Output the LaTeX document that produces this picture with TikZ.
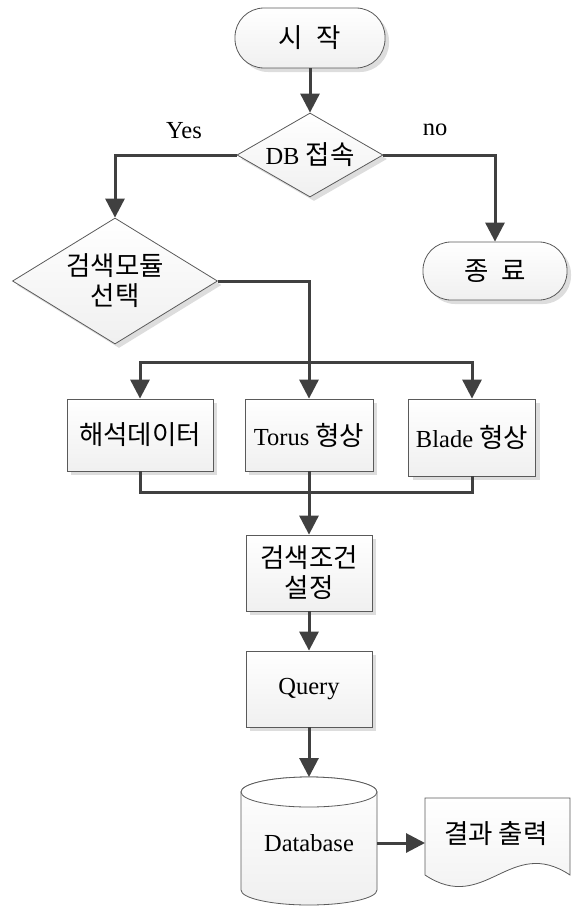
\documentclass[tikz,border=0pt]{standalone}
\usepackage{fontspec}
\setmainfont{Liberation Serif}
\newfontfamily\kr{Noto Sans CJK KR}
\usetikzlibrary{shapes.geometric,arrows.meta,shadows}
\definecolor{lnc}{HTML}{404040}
\definecolor{brd}{HTML}{5A5A5A}
\definecolor{shd}{HTML}{DDDDDD}
\begin{document}
\begin{tikzpicture}[x=1pt,y=-1pt,
  conn/.style={draw=lnc, line width=3pt, -{Triangle[length=19pt,width=19pt]}},
  wire/.style={draw=lnc, line width=3pt},
  fillsh/.style={draw=brd, line width=0.8pt, top color=white, bottom color=gray!12},
  shad/.style={drop shadow={shadow xshift=4pt, shadow yshift=-4pt, fill=shd, opacity=1}},
  lat/.style={font=\fontsize{24.5}{30}\selectfont},
  kor/.style={font=\kr\fontsize{26.5}{30}\selectfont},
  term/.style={fillsh, shad, rectangle, rounded corners=#1, inner sep=0pt, kor},
  dia/.style={fillsh, shad, diamond, aspect=1.7, inner sep=0pt, align=center, lat},
  box/.style={fillsh, shad, rectangle, inner sep=2pt, align=center, lat},
  lbl/.style={lat, inner sep=0pt}
]
\useasboundingbox (0,0) rectangle (577,907);

% terminals
\node[term=29pt, minimum width=150pt, minimum height=60pt] (start) at (310,38) {시\hspace{0.5em}작};
\node[term=28pt, minimum width=144pt, minimum height=58pt] (end) at (495,271) {종\hspace{0.5em}료};

% decisions
\node[dia, minimum width=146pt, minimum height=84pt] (db) at (310,155) {DB {\kr\fontsize{26.5}{30}\selectfont 접속}};
\node[dia, kor, minimum width=205pt, minimum height=126pt] (sel) at (115,281) {검색모듈\\선택};

% labels
\node[lbl] (yes) at (184,131) {Yes};
\node[lbl] (no) at (435,130) {no};

% process boxes
\node[box, kor, minimum width=146pt, minimum height=72pt] (b1) at (140,435) {해석데이터};
\node[box, minimum width=128pt, minimum height=72pt] (b2) at (309,435) {Torus {\kr\fontsize{26.5}{30}\selectfont 형상}};
\node[box, minimum width=127pt, minimum height=77pt] (b3) at (472,437.5) {Blade {\kr\fontsize{26.5}{30}\selectfont 형상}};
\node[box, kor, minimum width=126pt, minimum height=76pt] (cond) at (309,573) {검색조건\\설정};
\node[box, minimum width=126pt, minimum height=76pt] (query) at (309,689) {Query};

% database cylinder
\path[fillsh] (241,792) -- (241,890) arc[start angle=180, end angle=0, x radius=68, y radius=15]
  -- (377,792) arc[start angle=0, end angle=-180, x radius=68, y radius=15] -- cycle;
\path[draw=brd, line width=0.8pt, fill=white] (309,792) ellipse[x radius=68, y radius=15];
\node[lbl] (dbtext) at (309,843) {Database};
\coordinate (cylT) at (309,777);
\coordinate (cylR) at (377,843);

% document
\path[fillsh] (425,798) -- (570,798) -- (570,875) .. controls (510,835) and (485,915) .. (425,875) -- cycle;
\node[kor, inner sep=0pt] (doc) at (496,834) {결과 출력};
\coordinate (docL) at (425,843);

% connectors
\draw[conn] (start.south) -- (db.north);
\draw[conn] (db.west) -| (sel.north);
\draw[conn] (db.east) -| (end.north);
\coordinate (split) at (309,362);
\draw[wire] (sel.east) -| (split);
\draw[conn] (split) -| (b1.north);
\draw[conn] (split) -| (b3.north);
\draw[conn] (split) -- (b2.north);
\coordinate (merge) at (309,492);
\draw[wire] (b1.south) |- (merge);
\draw[wire] (b3.south) |- (merge);
\draw[conn] (b2.south) -- (cond.north);
\draw[conn] (cond.south) -- (query.north);
\draw[conn] (query.south) -- (cylT);
\draw[conn] (cylR) -- (docL);
\end{tikzpicture}
\end{document}
